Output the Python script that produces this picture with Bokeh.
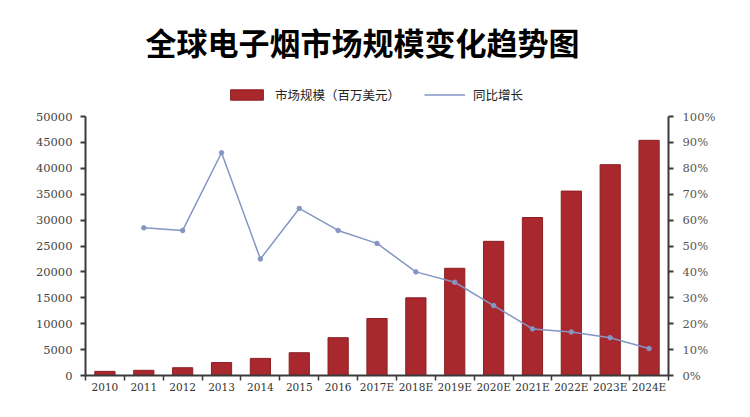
from bokeh.plotting import figure
from bokeh.models import (Range1d, LinearAxis, FixedTicker, NumeralTickFormatter,
                          Legend, LegendItem, Title, ColumnDataSource)
from bokeh.embed import file_html
from bokeh.resources import INLINE

years = ["2010", "2011", "2012", "2013", "2014", "2015", "2016", "2017E",
         "2018E", "2019E", "2020E", "2021E", "2022E", "2023E", "2024E"]
market = [800, 1000, 1500, 2500, 3300, 4400, 7300, 11000, 15000,
          20700, 25900, 30500, 35600, 40700, 45400]
growth_years = years[1:]
growth = [0.57, 0.56, 0.86, 0.45, 0.645, 0.56, 0.51, 0.40, 0.36,
          0.27, 0.18, 0.168, 0.146, 0.104]

title_text = "全球电子烟市场规模变化趋势图"
bar_label = "市场规模（百万美元）"
line_label = "同比增长"

xpos = [i + 0.5 for i in range(len(years))]
gpos = [years.index(y) + 0.5 for y in growth_years]

AX = "#3a3a3a"
FONT_NUM = "DejaVu Serif"
CJK = "Noto Sans CJK SC"

# layout: axes occupy 259px of a 295px tall frame (room for legend on top)
AX_MAX = 50000
EXT = 295 / 259

p = figure(width=742, height=409, output_backend="svg", toolbar_location=None,
           x_range=Range1d(0, len(years)), y_range=Range1d(0, AX_MAX * EXT),
           min_border_left=85, min_border_right=74, min_border_bottom=34,
           min_border_top=80, title=None)
p.outline_line_color = None
p.background_fill_color = "white"
p.border_fill_color = "white"
p.xgrid.visible = False
p.ygrid.visible = False
p.extra_y_ranges = {"pct": Range1d(0, 1 * EXT)}

bsrc = ColumnDataSource(dict(x=xpos, v=market))
bars = p.vbar(x="x", top="v", width=0.52, bottom=0, source=bsrc,
              fill_color="#a9282e", line_color="#8a2025", line_width=1)

lsrc = ColumnDataSource(dict(x=gpos, g=growth))
ln = p.line(x="x", y="g", source=lsrc, y_range_name="pct",
            line_color="#8595c4", line_width=1.5)
p.scatter(x="x", y="g", source=lsrc, y_range_name="pct", size=4.5,
          fill_color="#8595c4", line_color="#8595c4")

# x axis
xa = p.xaxis[0]
xa.ticker = FixedTicker(ticks=xpos, minor_ticks=list(range(len(years) + 1)))
xa.major_label_overrides = {x: y for x, y in zip(xpos, years)}
xa.major_tick_line_color = None
xa.major_tick_out = 0
xa.major_tick_in = 0
xa.minor_tick_line_color = AX
xa.minor_tick_line_width = 1.5
xa.minor_tick_out = 5
xa.minor_tick_in = 0
xa.axis_line_color = AX
xa.axis_line_width = 2
xa.major_label_text_font = FONT_NUM
xa.major_label_text_font_size = "10.5px"
xa.major_label_text_color = "#333333"
xa.major_label_standoff = 0

# left axis
ya = p.yaxis[0]
ya.ticker = FixedTicker(ticks=list(range(0, AX_MAX + 1, 5000)))
ya.bounds = (0, AX_MAX)
ya.minor_tick_line_color = None
ya.major_tick_line_color = AX
ya.major_tick_line_width = 2
ya.major_tick_out = 5
ya.major_tick_in = 0
ya.axis_line_color = AX
ya.axis_line_width = 2
ya.major_label_text_font = FONT_NUM
ya.major_label_text_font_size = "11.5px"
ya.major_label_text_color = "#444444"
ya.major_label_standoff = 8

# right axis
ra = LinearAxis(y_range_name="pct",
                ticker=FixedTicker(ticks=[i / 10 for i in range(11)]),
                formatter=NumeralTickFormatter(format="0%"), bounds=(0, 1))
ra.minor_tick_line_color = None
ra.major_tick_line_color = AX
ra.major_tick_line_width = 2
ra.major_tick_out = 5
ra.major_tick_in = 0
ra.axis_line_color = AX
ra.axis_line_width = 2
ra.major_label_text_font = FONT_NUM
ra.major_label_text_font_size = "11.5px"
ra.major_label_text_color = "#555555"
ra.major_label_standoff = 9
p.add_layout(ra, "right")

legend = Legend(items=[LegendItem(label=bar_label, renderers=[bars]),
                       LegendItem(label=line_label, renderers=[ln])],
                orientation="horizontal", location=(141, 271),
                glyph_width=41, glyph_height=13, label_standoff=8, spacing=24,
                label_text_font=CJK, label_text_font_size="12.5px",
                label_text_color="#222222", border_line_color=None,
                background_fill_alpha=0, padding=2, margin=0)
p.add_layout(legend, "center")

t = Title(text=title_text, align="left", text_font=CJK,
          text_font_size="31px", text_font_style="bold",
          text_color="#000000", standoff=33, offset=60)
p.add_layout(t, "above")

open("out.html", "w").write(file_html(p, INLINE))
